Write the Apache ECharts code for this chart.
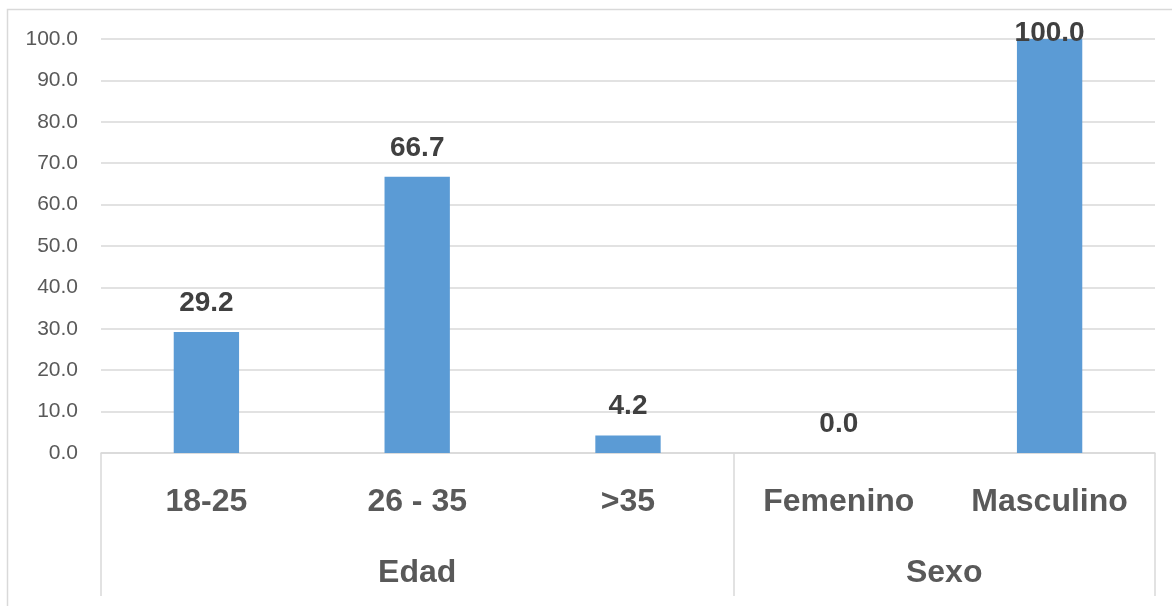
<!DOCTYPE html>
<html>
<head>
<meta charset="utf-8">
<script src="https://cdn.jsdelivr.net/npm/echarts@6/dist/echarts.min.js"></script>
<style>
  html, body { margin: 0; padding: 0; background: #fff; }
  #chart { width: 1172px; height: 606px; }
</style>
</head>
<body>
<div id="chart"></div>
<script>
// Categories (first level) and their groups (second level)
const categories = ['18-25', '26 - 35', '>35', 'Femenino', 'Masculino'];
const groups = ['Edad', 'Sexo'];
const groupSizes = [3, 2];
// Percentages per category
const values = [29.2, 66.7, 4.2, 0.0, 100.0];
// Y axis range
const yMin = 0, yMax = 100, yStep = 10;

// Group boundaries and centres in category units
const groupEdges = [0];
const groupCentres = [];
groupSizes.forEach((n, i) => {
  const start = groupEdges[i];
  groupEdges.push(start + n);
  groupCentres.push(start + n / 2);
});

const textColor = '#595959';
const lineColor = '#d9d9d9';
const font = '"Liberation Sans", Arial, sans-serif';

const chart = echarts.init(document.getElementById('chart'));
chart.setOption({
  backgroundColor: '#fff',
  animation: false,
  graphic: [{
    type: 'rect',
    shape: { x: 7.5, y: 9.5, width: 1200, height: 620 },
    style: { fill: 'none', stroke: lineColor, lineWidth: 1.5 },
    silent: true
  }],
  grid: { left: 101, right: 17, top: 39, bottom: 153 },
  xAxis: [{
    type: 'category',
    data: categories,
    boundaryGap: true,
    axisLine: { show: true, lineStyle: { color: lineColor, width: 1.5 } },
    axisTick: { show: false },
    axisLabel: {
      interval: 0,
      margin: 33,
      color: textColor,
      fontFamily: font,
      fontWeight: 'bold',
      fontSize: 32
    }
  }, {
    type: 'value',
    min: 0,
    max: categories.length,
    position: 'bottom',
    axisLine: { show: false },
    splitLine: { show: false },
    axisTick: {
      show: true,
      customValues: groupEdges,
      length: 143,
      lineStyle: { color: lineColor, width: 1.5 }
    },
    axisLabel: {
      customValues: groupCentres,
      margin: 104,
      color: textColor,
      fontFamily: font,
      fontWeight: 'bold',
      fontSize: 32,
      formatter: (v) => {
        const i = groupCentres.indexOf(v);
        return i >= 0 ? groups[i] : '';
      }
    }
  }],
  yAxis: {
    type: 'value',
    min: yMin,
    max: yMax,
    interval: yStep,
    axisLine: { show: false },
    axisTick: { show: false },
    splitLine: { lineStyle: { color: lineColor, width: 1.5 } },
    axisLabel: {
      margin: 23,
      color: textColor,
      fontFamily: font,
      fontSize: 21,
      formatter: (v) => v.toFixed(1)
    }
  },
  series: [{
    type: 'bar',
    xAxisIndex: 0,
    barWidth: '31%',
    data: values.map((v) => ({
      value: v,
      label: { distance: v >= yMax ? -8 : 15 }
    })),
    itemStyle: { color: '#5b9bd5' },
    label: {
      show: true,
      position: 'top',
      color: '#404040',
      fontFamily: font,
      fontWeight: 'bold',
      fontSize: 28,
      formatter: (p) => p.value.toFixed(1)
    }
  }]
});
</script>
</body>
</html>
